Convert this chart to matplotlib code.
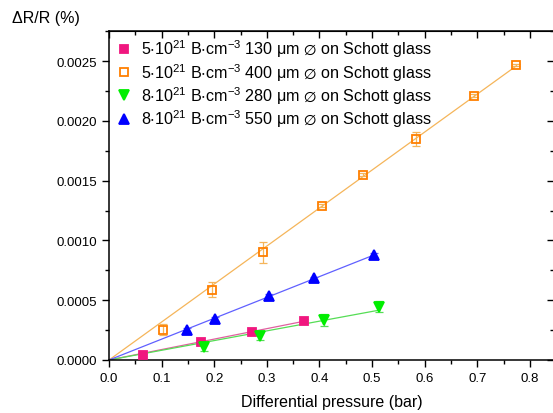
import matplotlib
matplotlib.use("Agg")
import matplotlib.pyplot as plt
from matplotlib.ticker import MultipleLocator, FormatStrFormatter
import numpy as np

plt.rcParams['font.family'] = ['Liberation Sans', 'DejaVu Sans']
plt.rcParams['mathtext.fontset'] = 'custom'
plt.rcParams['mathtext.rm'] = 'Liberation Sans'
plt.rcParams['mathtext.default'] = 'rm'
plt.rcParams['mathtext.fallback'] = 'stixsans'

# series: 5e21 B/cm3, 130 um
x_130 = [0.065, 0.175, 0.271, 0.371]
y_130 = [0.000042, 0.000148, 0.000237, 0.000329]
e_130 = [0.000010, 0.000012, 0.000012, 0.000012]

# series: 5e21 B/cm3, 400 um
x_400 = [0.103, 0.195, 0.292, 0.404, 0.482, 0.584, 0.694, 0.773]
y_400 = [0.000253, 0.000588, 0.000900, 0.001290, 0.001550, 0.001848, 0.002210, 0.002467]
e_400 = [0.000045, 0.000063, 0.000090, 0.000012, 0.000010, 0.000058, 0.000012, 0.000012]

# series: 8e21 B/cm3, 280 um
x_280 = [0.181, 0.287, 0.409, 0.514]
y_280 = [0.000106, 0.000200, 0.000337, 0.000446]
e_280 = [0.000033, 0.000035, 0.000049, 0.000046]

# series: 8e21 B/cm3, 550 um
x_550 = [0.148, 0.2015, 0.305, 0.390, 0.504]
y_550 = [0.000253, 0.000343, 0.000533, 0.000683, 0.000880]
e_550 = [0.000015, 0.000015, 0.000015, 0.000015, 0.000018]

labels = [
    r'5$\cdot$10$^{21}$ B$\cdot$cm$^{-3}$ 130 $\mu$m $\varnothing$ on Schott glass',
    r'5$\cdot$10$^{21}$ B$\cdot$cm$^{-3}$ 400 $\mu$m $\varnothing$ on Schott glass',
    r'8$\cdot$10$^{21}$ B$\cdot$cm$^{-3}$ 280 $\mu$m $\varnothing$ on Schott glass',
    r'8$\cdot$10$^{21}$ B$\cdot$cm$^{-3}$ 550 $\mu$m $\varnothing$ on Schott glass',
]

series = [
    (x_130, y_130, e_130, 's', '#f0177f', '#f0177f', '#e0609f', 6),
    (x_400, y_400, e_400, 's', 'none', '#ff7f00', '#f5b55a', 6),
    (x_280, y_280, e_280, 'v', '#00ee00', '#00ee00', '#55dd55', 7),
    (x_550, y_550, e_550, '^', '#0000ff', '#0000ff', '#6060ff', 7),
]

fig = plt.figure(figsize=(5.53, 4.14), dpi=100)
ax = fig.add_axes([109 / 553, 53 / 414, 445 / 553, 329 / 414])

handles = []
for (xs, ys, es, mk, fc, ec, lc, ms), lab in zip(series, labels):
    xs = np.array(xs)
    ys = np.array(ys)
    # linear fit through the origin
    slope = np.sum(xs * ys) / np.sum(xs * xs)
    xf = np.array([0.0, xs.max()])
    ax.plot(xf, slope * xf, color=lc, lw=0.9, zorder=2)
    ax.errorbar(xs, ys, yerr=es, fmt='none', ecolor=lc, elinewidth=0.9,
                capsize=3, capthick=0.9, zorder=3)
    h, = ax.plot(xs, ys, ls='none', marker=mk, ms=ms, mfc=fc, mec=ec,
                 mew=1.3, zorder=4, label=lab)
    handles.append(h)

ax.set_xlim(0, 0.846)
ax.set_ylim(0, 0.002751)

ax.xaxis.set_major_locator(MultipleLocator(0.1))
ax.xaxis.set_minor_locator(MultipleLocator(0.05))
ax.yaxis.set_major_locator(MultipleLocator(0.0005))
ax.yaxis.set_minor_locator(MultipleLocator(0.00025))
ax.xaxis.set_major_formatter(FormatStrFormatter('%.1f'))
ax.yaxis.set_major_formatter(FormatStrFormatter('%.4f'))
ax.tick_params(which='major', length=5, width=1, labelsize=9.5, direction='out')
ax.tick_params(which='minor', length=3, width=1, direction='out')

top = ax.secondary_xaxis('top')
top.xaxis.set_major_locator(MultipleLocator(0.1))
top.xaxis.set_minor_locator(MultipleLocator(0.05))
top.tick_params(which='major', length=5, width=1, direction='in', labeltop=False)
top.tick_params(which='minor', length=3, width=1, direction='in')
right = ax.secondary_yaxis('right')
right.yaxis.set_major_locator(MultipleLocator(0.0005))
right.yaxis.set_minor_locator(MultipleLocator(0.00025))
right.tick_params(which='major', length=5, width=1, direction='in', labelright=False)
right.tick_params(which='minor', length=3, width=1, direction='in')

for sp in ax.spines.values():
    sp.set_linewidth(1.1)

ax.set_xlabel('Differential pressure (bar)', fontsize=11.5, labelpad=7)
fig.text(12 / 553, 1 - 18 / 414, '\u0394R/R (%)', fontsize=11.5, va='center', ha='left')

ax.legend(handles=handles, loc='upper left', bbox_to_anchor=(-0.0135, 1.014),
          frameon=False, fontsize=11.6, handlelength=1.2, handletextpad=0.45,
          labelspacing=0.1, borderaxespad=0.3, numpoints=1)

fig.savefig('out.png', dpi=100)
